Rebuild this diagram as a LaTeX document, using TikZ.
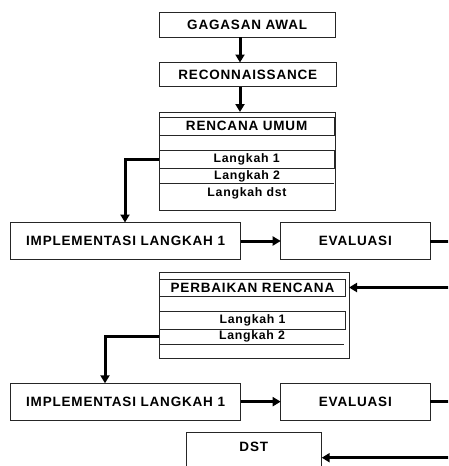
\documentclass[tikz,border=0pt]{standalone}
\usepackage{fontspec}
\newfontfamily\diafont[LetterSpace=6]{Liberation Sans}
\usetikzlibrary{arrows.meta}
\begin{document}
\begin{tikzpicture}[x=1pt,y=-1pt,
  box/.style={draw=black!85,line width=1pt,fill=white,inner sep=0pt,outer sep=0pt,anchor=north west,
    font=\diafont\bfseries\fontsize{13.5}{15}\selectfont},
  smallfont/.style={font=\diafont\bfseries\fontsize{12.3}{14}\selectfont},
  small/.style={smallfont,inner sep=0pt},
  arr/.style={line width=3pt,-{Triangle[length=8pt,width=9pt]}},
  lnk/.style={line width=3pt}]
\clip (0,0) rectangle (448,466);
\fill[white] (0,0) rectangle (448,466);
\coordinate (ax) at (240,0);
\coordinate (cA) at (125,0);
\coordinate (cB) at (105,0);
% top boxes
\node[box,minimum width=175.7pt,minimum height=24.5pt] (gag) at (159.3,12.5) {GAGASAN AWAL};
\node[box,minimum width=177pt,minimum height=24pt] (rec) at (159.3,62.5) {RECONNAISSANCE};
% rencana umum block
\node[box,minimum width=175.7pt,minimum height=98pt] (ren) at (159.3,112) {};
\node[box,minimum width=174.7pt,minimum height=18pt] (renu) at (159.3,117) {RENCANA UMUM};
\node[box,minimum width=174.7pt,minimum height=17.6pt,smallfont] (rl1) at (159.3,150.7) {Langkah 1};
\node[small] (rl2) at (247,176) {Langkah 2};
\draw[draw=black!85,line width=1pt] (ren.west |- 0,183.3) coordinate (rlA) -- (334,183.3) coordinate (rlB);
\node[small] (rld) at (247,193) {Langkah dst};
% first implementation row
\node[box,minimum width=230.2pt,minimum height=37pt] (impl1) at (10.5,222.5) {IMPLEMENTASI LANGKAH 1};
\node[box,minimum width=149.3pt,minimum height=37pt] (eval1) at (280.7,222.5) {EVALUASI};
% perbaikan block
\node[box,minimum width=189.7pt,minimum height=86.5pt] (perb) at (159.3,272) {};
\node[box,minimum width=186.4pt,minimum height=17pt] (perbr) at (159.3,279) {PERBAIKAN RENCANA};
\node[box,minimum width=186.4pt,minimum height=18pt,smallfont] (pl1) at (159.3,311) {Langkah 1};
\node[small] (pl2) at (252,336.5) {Langkah 2};
\draw[draw=black!85,line width=1pt] (perb.west |- 0,344) coordinate (plA) -- (344.3,344) coordinate (plB);
% second implementation row
\node[box,minimum width=230.2pt,minimum height=36.7pt] (impl2) at (10.5,383.3) {IMPLEMENTASI LANGKAH 1};
\node[box,minimum width=149.3pt,minimum height=36.7pt] (eval2) at (280.7,383.3) {EVALUASI};
% DST
\node[box,minimum width=135.7pt,minimum height=50pt] (dst) at (186,432.7) {};
\node[box,draw=none,fill=none,anchor=center] (dstt) at (253.8,446.7) {DST};
% connectors
\draw[arr] (gag.south -| ax) -- (rec.north -| ax);
\draw[arr] (rec.south -| ax) -- (ren.north -| ax);
\draw[arr] (rl1.west) -| (impl1.north -| cA);
\draw[arr] (impl1.east) -- (eval1.west);
\draw[arr] (eval1.east) -- ++(40,0) |- (perbr.east -| perb.east);
\draw[arr] (pl2.west -| perb.west) -| (impl2.north -| cB);
\draw[arr] (impl2.east) -- (eval2.west);
\draw[arr] (eval2.east) -- ++(40,0) |- (dst.east);
\end{tikzpicture}
\end{document}
